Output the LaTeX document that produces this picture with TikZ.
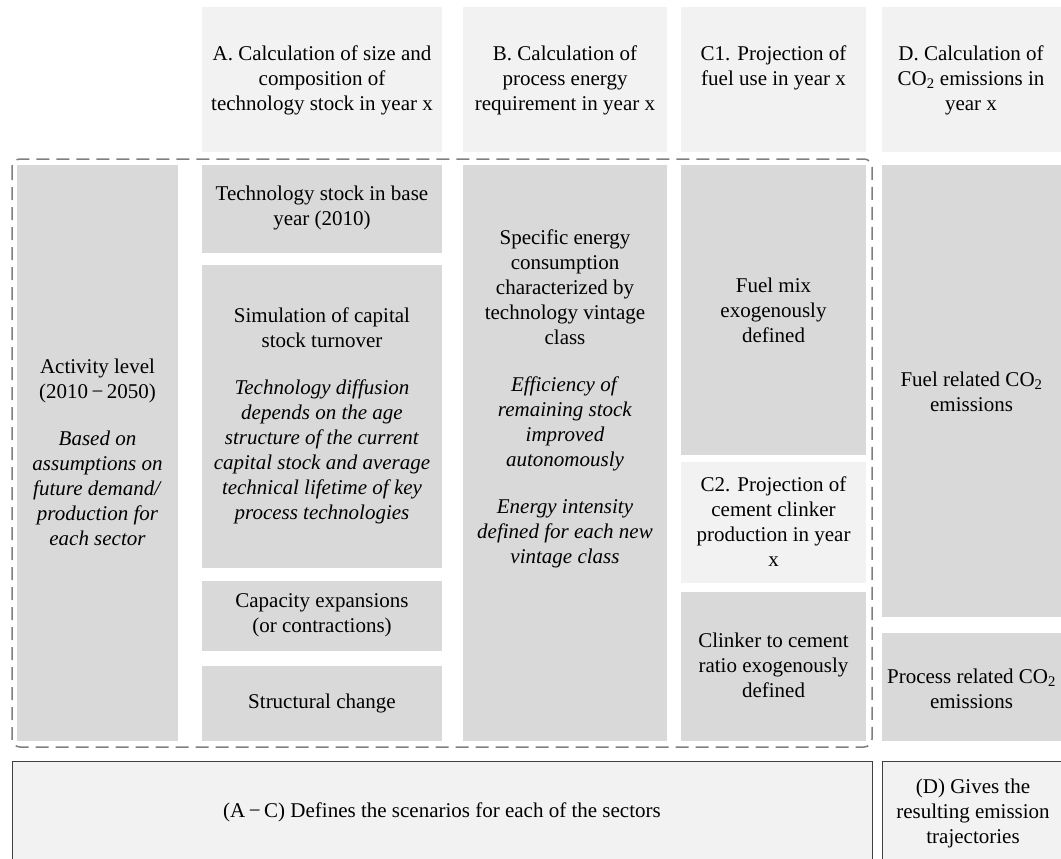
\documentclass[tikz,border=0pt]{standalone}
\usepackage{fontspec}
\setmainfont{Liberation Serif}
\definecolor{headgray}{HTML}{F2F2F2}
\definecolor{cellgray}{HTML}{D9D9D9}
\definecolor{dashgray}{HTML}{7F7F7F}
\definecolor{framegray}{HTML}{404040}
\begin{document}
\begin{tikzpicture}[x=1pt, y=-1pt,
  every node/.style={font=\fontsize{21}{25}\selectfont, align=center, inner sep=0pt},
  head/.style={fill=headgray},
  cell/.style={fill=cellgray},
  summary/.style={fill=headgray, draw=framegray, line width=1pt}]
\useasboundingbox (0,0) rectangle (1061,859);
\foreach \xa/\ya/\xb/\yb in {202/7/442/152, 463/7/667/152, 681/7/866/152, 882/7/1061/152, 681/462/866/583}
  \fill[head] (\xa,\ya) rectangle (\xb,\yb);
\foreach \xa/\ya/\xb/\yb in {17/165/178/741, 202/165/442/253, 202/265/442/568, 202/581/442/651,
    202/666/442/741, 463/165/667/741, 681/165/866/455, 681/592/866/741, 882/165/1061/617, 882/633/1061/741}
  \fill[cell] (\xa,\ya) rectangle (\xb,\yb);
\draw[dashgray, line width=1.5pt, dash pattern=on 13pt off 7pt, rounded corners=8pt] (12,159) rectangle (872,747);
\draw[summary] (12,761) rectangle (872,875);
\draw[summary] (882,761) rectangle (1075,875);
\node (headA) at (322,80) {A. Calculation of size and\\composition of\\technology stock in year x};
\node (headB) at (565,80) {B. Calculation of\\process energy\\requirement in year x};
\node (headC1) at (773.5,67.5) {C1. Projection of\\fuel use in year x};
\node (headD) at (971,80) {D. Calculation of\\CO\textsubscript{2} emissions in\\year x};
\node (activity) at (97.5,452.5) {Activity level\\(2010\,−\,2050)\\[22pt]\textit{Based on}\\\textit{assumptions on}\\\textit{future demand/}\\\textit{production for}\\\textit{each sector}};
\node (techbase) at (322,208) {Technology stock in base\\year (2010)};
\node (turnover) at (322,416) {Simulation of capital\\stock turnover\\[22pt]\textit{Technology diffusion}\\\textit{depends on the age}\\\textit{structure of the current}\\\textit{capital stock and average}\\\textit{technical lifetime of key}\\\textit{process technologies}};
\node (capacity) at (322,615.5) {Capacity expansions\\(or contractions)};
\node (structural) at (322,703) {Structural change};
\node (energy) at (565,399) {Specific energy\\consumption\\characterized by\\technology vintage\\class\\[22pt]\textit{Efficiency of}\\\textit{remaining stock}\\\textit{improved}\\\textit{autonomously}\\[22pt]\textit{Energy intensity}\\\textit{defined for each new}\\\textit{vintage class}};
\node (fuelmix) at (773.5,310) {Fuel mix\\exogenously\\defined};
\node (headC2) at (773.5,521.5) {C2. Projection of\\cement clinker\\production in year\\x};
\node (clinker) at (773.5,665) {Clinker to cement\\ratio exogenously\\defined};
\node (fuelco2) at (971.5,392) {Fuel related CO\textsubscript{2}\\emissions};
\node (processco2) at (971.5,689) {Process related CO\textsubscript{2}\\emissions};
\node (scenarios) at (442,812) {(A\,−\,C) Defines the scenarios for each of the sectors};
\node (results) at (973,813) {(D) Gives the\\resulting emission\\trajectories};
\end{tikzpicture}
\end{document}
